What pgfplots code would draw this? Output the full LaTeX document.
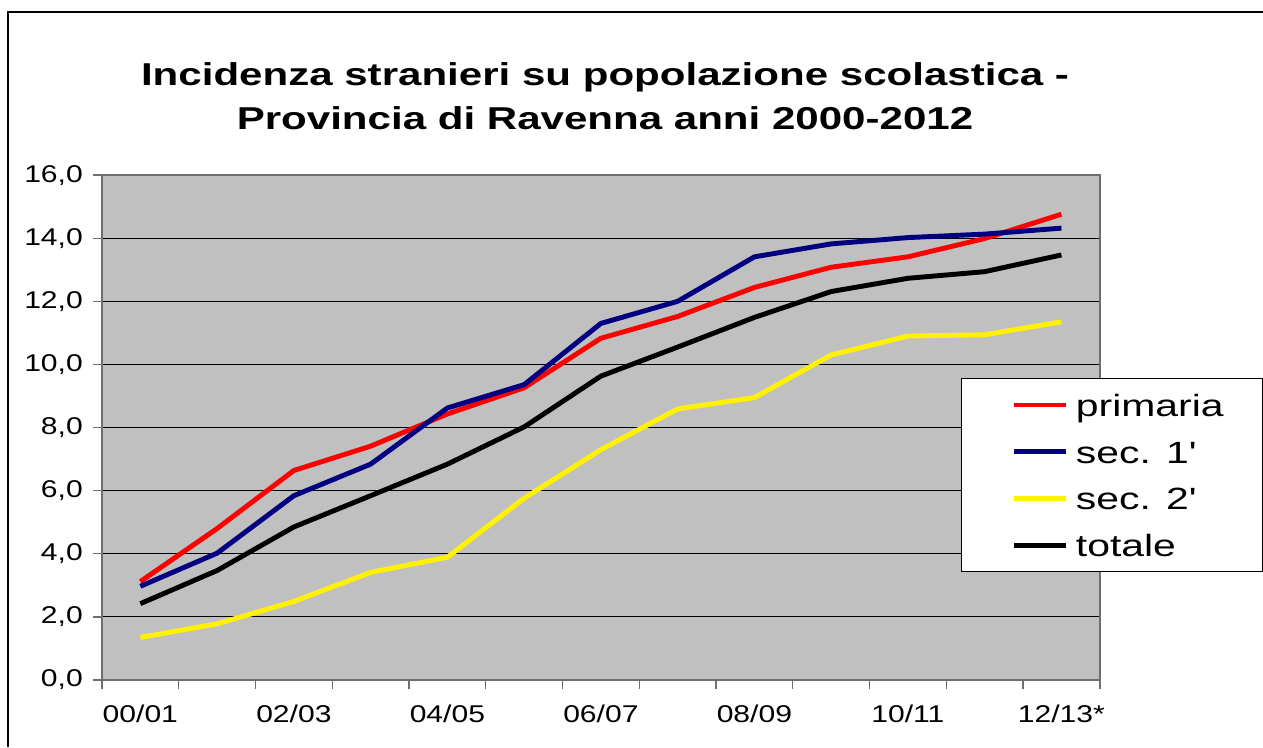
\documentclass[border=0pt]{standalone}
\usepackage{fontspec}
\setmainfont{Liberation Sans}
\usepackage{graphicx}
\usepackage{pgfplots}
\pgfplotsset{compat=1.18}

\definecolor{bgray}{RGB}{192,192,192}
\definecolor{axgray}{RGB}{110,110,110}
\definecolor{navy}{RGB}{0,0,128}

% the reference text is set wide: stretch it horizontally
\newcommand{\sx}[1]{\scalebox{1.24}[1]{#1}}
\newcommand{\lx}[1]{\scalebox{1.33}[1]{#1}}

\begin{document}
\begin{tikzpicture}[x=0.02cm,y=0.02cm]
\useasboundingbox (0,0) rectangle (1263,747);
% outer chart frame
\draw[line width=1.1pt] (8,0) -- (8,735) -- (1263,735);
% title
\node[anchor=base,font=\bfseries\fontsize{18}{22}\selectfont] at (605,661) {\scalebox{1.33}[1]{Incidenza stranieri su popolazione scolastica -}};
\node[anchor=base,font=\bfseries\fontsize{18}{22}\selectfont] at (605,617) {\scalebox{1.33}[1]{Provincia di Ravenna anni 2000-2012}};

\begin{axis}[
    at={(2.04cm,1.34cm)}, anchor=south west,
    scale only axis,
    width=19.96cm, height=10.1cm,
    xmin=-0.5, xmax=12.5,
    ymin=0, ymax=16,
    ytick={0,2,...,16},
    xtick={0,2,...,12},
    xticklabels={\sx{00/01},\sx{02/03},\sx{04/05},\sx{06/07},\sx{08/09},\sx{10/11},\sx{12/13*}},
    minor xtick={-0.5,0.5,...,12.5},
    xtick pos=bottom, ytick pos=left,
    major x tick style={draw=none},
    tick align=outside,
    major tick length=0.18cm,
    minor tick length=0.18cm,
    tick style={axgray, line width=0.8pt},
    axis line style={axgray, line width=1.1pt},
    axis background/.style={fill=bgray},
    ymajorgrids,
    major grid style={black, line width=0.6pt},
    ticklabel style={font=\fontsize{13.8}{16}\selectfont},
    /pgf/number format/.cd, fixed, fixed zerofill, precision=1, use comma, assume math mode=true,
    /pgfplots/.cd,
    yticklabel={\sx{\pgfmathprintnumber{\tick}}},
    yticklabel style={xshift=-0.08cm},
    xticklabel style={yshift=-0.2cm},
    legend style={
        at={(rel axis cs:0.8607,0.598)}, anchor=north west,
        draw=black, fill=white, line width=0.6pt,
        font=\fontsize{17.5}{21}\selectfont,
        inner xsep=22pt, inner ysep=6.5pt,
        row sep=9.6pt, column sep=4pt,
        nodes={text height=15pt, text depth=2pt, inner sep=0pt},
    },
    legend cell align=left,
    legend image code/.code={\path (0cm,0cm); \draw[#1] (0.24cm,0cm) -- (1.28cm,0cm);},
    every axis plot/.append style={line width=2.8pt, line join=round},
]
\addplot[red] coordinates {
  (0,3.12) (1,4.80) (2,6.64) (3,7.41) (4,8.43) (5,9.26) (6,10.83)
  (7,11.52) (8,12.44) (9,13.08) (10,13.41) (11,13.99) (12,14.76)
};
\addlegendentry{\lx{primaria}}
\addplot[navy] coordinates {
  (0,2.97) (1,4.02) (2,5.84) (3,6.84) (4,8.62) (5,9.36) (6,11.30)
  (7,12.00) (8,13.41) (9,13.82) (10,14.02) (11,14.13) (12,14.32)
};
\addlegendentry{\lx{sec. 1\textquotesingle}}
\addplot[yellow] coordinates {
  (0,1.35) (1,1.78) (2,2.49) (3,3.41) (4,3.89) (5,5.76) (6,7.30)
  (7,8.59) (8,8.95) (9,10.30) (10,10.90) (11,10.94) (12,11.35)
};
\addlegendentry{\lx{sec. 2\textquotesingle}}
\addplot[black] coordinates {
  (0,2.42) (1,3.47) (2,4.85) (3,5.84) (4,6.84) (5,8.02) (6,9.63)
  (7,10.55) (8,11.49) (9,12.31) (10,12.73) (11,12.94) (12,13.47)
};
\addlegendentry{\lx{totale}}
\end{axis}
\end{tikzpicture}
\end{document}
